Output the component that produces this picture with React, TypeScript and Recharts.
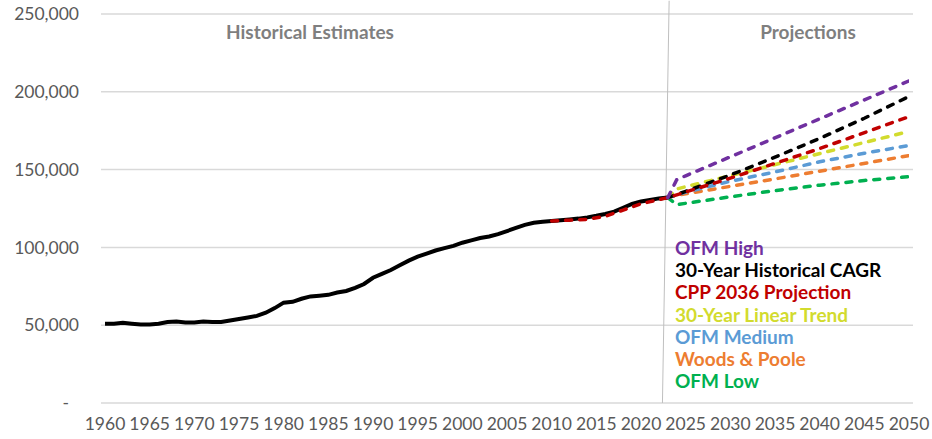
import React from 'react';
import { LineChart, Line, XAxis, YAxis, CartesianGrid, ReferenceLine } from 'recharts';

type Pt = { year: number; value: number };

const pts = (years: number[], values: number[]): Pt[] =>
    years.map((year, i) => ({ year, value: values[i] }));

// Historical estimates, 1960-2023
const histYears = [
    1960, 1961, 1962, 1963, 1964, 1965, 1966, 1967, 1968, 1969,
    1970, 1971, 1972, 1973, 1974, 1975, 1976, 1977, 1978, 1979,
    1980, 1981, 1982, 1983, 1984, 1985, 1986, 1987, 1988, 1989,
    1990, 1991, 1992, 1993, 1994, 1995, 1996, 1997, 1998, 1999,
    2000, 2001, 2002, 2003, 2004, 2005, 2006, 2007, 2008, 2009,
    2010, 2011, 2012, 2013, 2014, 2015, 2016, 2017, 2018, 2019,
    2020, 2021, 2022, 2023,
];
const histValues = [
    51000, 51000, 51500, 51000, 50500, 50500, 51000, 52000, 52300, 51800,
    51800, 52300, 52000, 52000, 53000, 54000, 55000, 56000, 58000, 61000,
    64500, 65000, 67000, 68500, 69000, 69500, 71000, 72000, 74000, 76500,
    80500, 83000, 85500, 88500, 91500, 94000, 96000, 98000, 99500, 101000,
    103000, 104500, 106000, 107000, 108500, 110500, 112500, 114500, 115800, 116500,
    117000, 117500, 118000, 118500, 119300, 120300, 121500, 123000, 125500, 128000,
    129500, 130500, 131500, 132000,
];

// Projections
const ofmHighYears = [2023, 2024, 2025, 2050];
const ofmHighValues = [132000, 143500, 146000, 207000];

const cagrYears = [2023, 2025, 2030, 2035, 2040, 2045, 2050];
const cagrValues = [132000, 136000, 146500, 158000, 170000, 183000, 197000];

const cppYears = [2010, 2012, 2014, 2016, 2018, 2020, 2023, 2030, 2040, 2050];
const cppValues = [117000, 117500, 118000, 120000, 124000, 128000, 132000, 144500, 163500, 184000];

const linearYears = [2023, 2024, 2025, 2050];
const linearValues = [132000, 137500, 139000, 174500];

const ofmMedYears = [2023, 2025, 2030, 2035, 2040, 2045, 2050];
const ofmMedValues = [132000, 135500, 142500, 148500, 155000, 160500, 165500];

const woodsYears = [2023, 2024, 2035, 2050];
const woodsValues = [132000, 133500, 144000, 159000];

const ofmLowYears = [2023, 2024, 2030, 2035, 2040, 2045, 2050];
const ofmLowValues = [132000, 127500, 132500, 136500, 140000, 143000, 145500];

const xTicks = [1960, 1965, 1970, 1975, 1980, 1985, 1990, 1995, 2000, 2005, 2010, 2015, 2020, 2025, 2030, 2035, 2040, 2045, 2050];
const yTicks = [0, 50000, 100000, 150000, 200000, 250000];

const projections = [
    { name: 'OFM High', color: '#7030A0', data: pts(ofmHighYears, ofmHighValues) },
    { name: '30-Year Historical CAGR', color: '#000000', data: pts(cagrYears, cagrValues) },
    { name: 'CPP 2036 Projection', color: '#C00000', data: pts(cppYears, cppValues) },
    { name: '30-Year Linear Trend', color: '#D2DB2E', data: pts(linearYears, linearValues) },
    { name: 'OFM Medium', color: '#5B9BD5', data: pts(ofmMedYears, ofmMedValues) },
    { name: 'Woods & Poole', color: '#ED7D31', data: pts(woodsYears, woodsValues) },
    { name: 'OFM Low', color: '#00B050', data: pts(ofmLowYears, ofmLowValues) },
];

// draw order: bottom first
const drawOrder = ['OFM Low', 'Woods & Poole', 'OFM Medium', '30-Year Linear Trend', '30-Year Historical CAGR', 'CPP 2036 Projection', 'OFM High'];

const FONT = 'Lato, sans-serif';

function YTick(props: any) {
    const { x, y, payload } = props;
    const v = payload.value as number;
    const label = v === 0 ? '-' : v.toLocaleString('en-US');
    return (
        <text x={v === 0 ? x - 10 : x} y={y} dy="0.35em" textAnchor="end" fill="#595959" fontSize={17.5} fontFamily={FONT}>
            {label}
        </text>
    );
}

export default function App() {
    if (typeof document !== 'undefined') document.body.style.margin = '0';

    return (
        <div style={{ position: 'relative', width: 932, height: 439, background: '#fff' }}>
            <LineChart width={932} height={439} margin={{ top: 14, right: 19, left: 0, bottom: 0 }}>
                <CartesianGrid vertical={false} stroke="#d9d9d9" strokeWidth={1.5} />
                <XAxis
                    type="number"
                    dataKey="year"
                    domain={[1960, 2050]}
                    ticks={xTicks}
                    padding={{ left: 4, right: 4 }}
                    axisLine={false}
                    tickLine={false}
                    tickSize={0}
                    tickMargin={15}
                    height={36}
                    tick={{ fill: '#595959', fontSize: 17.5, fontFamily: FONT }}
                    allowDataOverflow
                />
                <YAxis
                    domain={[0, 250000]}
                    ticks={yTicks}
                    axisLine={false}
                    tickLine={false}
                    tickSize={0}
                    tickMargin={22}
                    width={101}
                    tick={<YTick />}
                />
                <ReferenceLine
                    segment={[{ x: 2022.4, y: 0 }, { x: 2023.15, y: 258500 }]}
                    stroke="#bfbfbf"
                    strokeWidth={1}
                    ifOverflow="visible"
                />
                <Line
                    data={pts(histYears, histValues)}
                    dataKey="value"
                    stroke="#000000"
                    strokeWidth={4}
                    dot={false}
                    isAnimationActive={false}
                />
                {drawOrder.map((n) => {
                    const s = projections.find((p) => p.name === n)!;
                    return (
                        <Line
                            key={s.name}
                            data={s.data}
                            dataKey="value"
                            name={s.name}
                            stroke={s.color}
                            strokeWidth={3.5}
                            strokeDasharray="6 8"
                            strokeLinecap="round"
                            dot={false}
                            isAnimationActive={false}
                        />
                    );
                })}
            </LineChart>

            <div style={{ position: 'absolute', left: 0, top: 20, fontFamily: FONT, fontWeight: 700, fontSize: 19, color: '#7f7f7f' }}>
                <span style={{ position: 'absolute', left: 310, transform: 'translateX(-50%)', whiteSpace: 'nowrap' }}>Historical Estimates</span>
                <span style={{ position: 'absolute', left: 808, transform: 'translateX(-50%)', whiteSpace: 'nowrap' }}>Projections</span>
            </div>

            <div style={{ position: 'absolute', left: 675, top: 237, fontFamily: FONT, fontWeight: 700, fontSize: 19, lineHeight: '22.2px' }}>
                {projections.map((s) => (
                    <div key={s.name} style={{ color: s.color, whiteSpace: 'nowrap' }}>{s.name}</div>
                ))}
            </div>
        </div>
    );
}
